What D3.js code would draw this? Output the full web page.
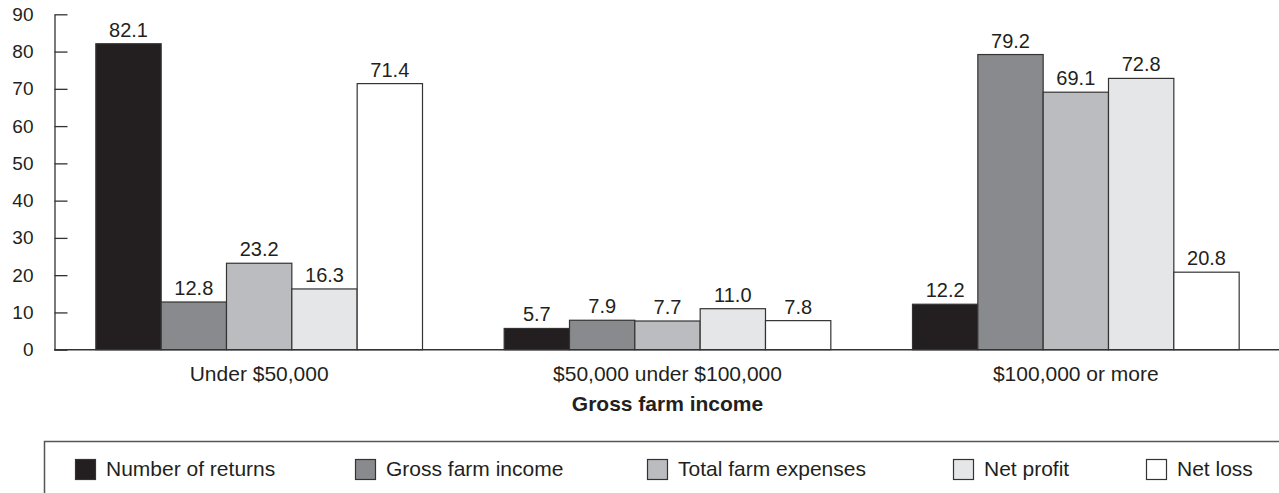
<!DOCTYPE html>
<html>
<head>
<meta charset="utf-8">
<style>
body { margin: 0; background: #fff; }
svg { font-family: "Liberation Sans", Arial, sans-serif; }
.bar { stroke: #333; stroke-width: 1.2px; }
.axis path, .axis line { stroke: #333; }
.axis text { fill: #231f20; font-size: 19px; }
</style>
<title>Gross farm income</title>
</head>
<body>
<div id="chart"></div>
<script src="https://d3js.org/d3.v7.min.js"></script>
<script>
// data
var categories = ["Under $50,000", "$50,000 under $100,000", "$100,000 or more"];
var seriesNames = ["Number of returns", "Gross farm income", "Total farm expenses", "Net profit", "Net loss"];
var numberOfReturns   = [82.1, 5.7, 12.2];
var grossFarmIncome   = [12.8, 7.9, 79.2];
var totalFarmExpenses = [23.2, 7.7, 69.1];
var netProfit         = [16.3, 11.0, 72.8];
var netLoss           = [71.4, 7.8, 20.8];
var yTicks = [0, 10, 20, 30, 40, 50, 60, 70, 80, 90];

var seriesValues = [numberOfReturns, grossFarmIncome, totalFarmExpenses, netProfit, netLoss];
var colors = ["#231f20", "#898a8d", "#bbbcbf", "#e5e6e7", "#ffffff"];

var width = 1279, height = 493;

var svg = d3.select("#chart").append("svg")
    .attr("width", width)
    .attr("height", height);

var x0 = d3.scaleBand()
    .domain(categories)
    .range([55, 1280])
    .paddingInner(0.2)
    .paddingOuter(0.1);

var x1 = d3.scaleBand()
    .domain(seriesNames)
    .range([0, x0.bandwidth()]);

var y = d3.scaleLinear()
    .domain([0, 90])
    .range([349.7, 14.3]);

var rows = categories.map(function(c, i) {
    return { cat: c, vals: seriesNames.map(function(s, j) { return { key: s, value: seriesValues[j][i], color: colors[j] }; }) };
});

// y axis
svg.append("g")
    .attr("class", "axis")
    .attr("transform", "translate(54.5,0)")
    .call(d3.axisLeft(y).tickValues(yTicks).tickSizeInner(-13).tickSizeOuter(0).tickPadding(21))
    .call(function(g) { g.selectAll("path, line").attr("stroke-width", 1.3); })
    .selectAll("text").attr("font-family", null).attr("font-size", null);

// bars
var groups = svg.append("g")
  .selectAll("g")
  .data(rows)
  .enter().append("g")
    .attr("transform", function(d) { return "translate(" + x0(d.cat) + ",0)"; });

groups.selectAll("rect")
    .data(function(d) { return d.vals; })
    .enter().append("rect")
      .attr("class", "bar")
      .attr("x", function(d) { return x1(d.key); })
      .attr("y", function(d) { return y(d.value); })
      .attr("width", x1.bandwidth())
      .attr("height", function(d) { return y(0) - y(d.value); })
      .attr("fill", function(d) { return d.color; });

groups.selectAll("text")
    .data(function(d) { return d.vals; })
    .enter().append("text")
      .attr("x", function(d) { return x1(d.key) + x1.bandwidth() / 2; })
      .attr("y", function(d) { return y(d.value) - 7; })
      .attr("text-anchor", "middle")
      .attr("font-size", 20)
      .attr("fill", "#231f20")
      .text(function(d) { return d.value.toFixed(1); });

// x axis baseline
svg.append("line")
    .attr("x1", 54)
    .attr("x2", width)
    .attr("y1", y(0))
    .attr("y2", y(0))
    .attr("stroke", "#333")
    .attr("stroke-width", 1.6);

// category labels
svg.append("g")
  .selectAll("text")
  .data(categories)
  .enter().append("text")
    .attr("x", function(d) { return x0(d) + x0.bandwidth() / 2; })
    .attr("y", 381)
    .attr("text-anchor", "middle")
    .attr("font-size", 21)
    .attr("fill", "#231f20")
    .text(function(d) { return d; });

svg.append("text")
    .attr("x", x0(categories[1]) + x0.bandwidth() / 2)
    .attr("y", 411)
    .attr("text-anchor", "middle")
    .attr("font-size", 21)
    .attr("font-weight", "bold")
    .attr("fill", "#231f20")
    .text("Gross farm income");

// legend
var legendX = [75, 355, 647, 953, 1146];

svg.append("rect")
    .attr("x", 44.5)
    .attr("y", 441.5)
    .attr("width", width)
    .attr("height", 100)
    .attr("fill", "none")
    .attr("stroke", "#555")
    .attr("stroke-width", 1.5);

var legend = svg.append("g")
  .selectAll("g")
  .data(seriesNames)
  .enter().append("g")
    .attr("transform", function(d, i) { return "translate(" + legendX[i] + ",459)"; });

legend.append("rect")
    .attr("class", "bar")
    .attr("x", 0.5)
    .attr("y", 0.5)
    .attr("width", 20)
    .attr("height", 20)
    .attr("fill", function(d, i) { return colors[i]; });

legend.append("text")
    .attr("x", 31)
    .attr("y", 17)
    .attr("font-size", 21)
    .attr("fill", "#231f20")
    .text(function(d) { return d; });
</script>
</body>
</html>
